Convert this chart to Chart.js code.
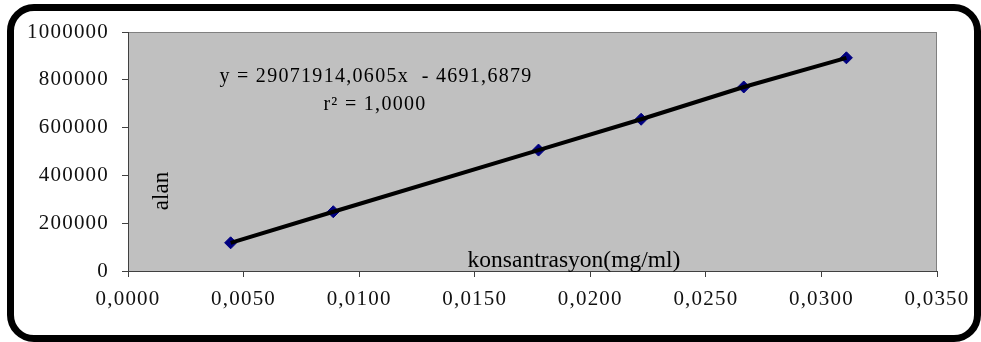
<!DOCTYPE html>
<html>
<head>
<meta charset="utf-8">
<script src="https://cdn.jsdelivr.net/npm/chart.js@4/dist/chart.umd.min.js"></script>
<style>
  html, body { margin: 0; padding: 0; background: #fff; }
  #wrap { position: relative; width: 981px; height: 342px; overflow: hidden; }
  #grafik { position: absolute; left: 0; top: 0; }
  #cerceve {
    position: absolute; left: 7px; top: 4px; width: 974px; height: 338px;
    box-sizing: border-box; border: 7px solid #000; border-radius: 27px;
    pointer-events: none;
  }
</style>
</head>
<body>
<div id="wrap">
  <canvas id="grafik" width="981" height="342"></canvas>
  <div id="cerceve"></div>
</div>
<script>
// konsantrasyon (mg/ml) ve alan degerleri
var konsantrasyon = [0.00444, 0.00888, 0.01776, 0.02220, 0.02664, 0.03108];
var alan = [118000, 248000, 506000, 635000, 770000, 892000];

var xTicks = [0, 0.005, 0.010, 0.015, 0.020, 0.025, 0.030, 0.035];
var yTicks = [0, 200000, 400000, 600000, 800000, 1000000];

var denklem = 'y = 29071914,0605x  - 4691,6879';
var rKare = 'r\u00B2 = 1,0000';
var xBaslik = 'konsantrasyon(mg/ml)';
var yBaslik = 'alan';

var noktalar = konsantrasyon.map(function(k, i) {
  return { x: k, y: alan[i] };
});

var yazi = '"Liberation Serif", "Times New Roman", serif';

var arkaPlan = {
  id: 'arkaPlan',
  beforeDraw: function(chart) {
    var ctx = chart.ctx;
    var a = chart.chartArea;
    ctx.save();
    ctx.fillStyle = '#c0c0c0';
    ctx.fillRect(a.left, a.top, a.right - a.left, a.bottom - a.top);
    ctx.strokeStyle = '#808080';
    ctx.lineWidth = 1;
    ctx.strokeRect(a.left + 0.5, a.top + 0.5, a.right - a.left - 1, a.bottom - a.top);
    ctx.restore();
    // Excel gibi biraz aralikli rakamlar
    ctx.letterSpacing = '1.2px';
  },
  afterDraw: function(chart) {
    var ctx = chart.ctx;
    ctx.save();
    ctx.fillStyle = '#000';
    ctx.textAlign = 'center';
    ctx.textBaseline = 'alphabetic';
    ctx.letterSpacing = '1.3px';
    ctx.font = '20px ' + yazi;
    ctx.fillText(denklem, 376, 82);
    ctx.fillText(rKare, 375, 110);

    ctx.letterSpacing = '0px';
    ctx.font = '23.5px ' + yazi;
    ctx.fillText(xBaslik, 574, 267);

    ctx.translate(168, 191);
    ctx.rotate(-Math.PI / 2);
    ctx.font = '23px ' + yazi;
    ctx.fillText(yBaslik, 0, 0);
    ctx.restore();
  }
};

new Chart(document.getElementById('grafik'), {
  type: 'scatter',
  data: {
    datasets: [{
      label: 'alan',
      data: noktalar,
      showLine: true,
      borderColor: '#000',
      borderWidth: 4,
      pointRadius: 0,
      order: 1
    }, {
      label: 'noktalar',
      data: noktalar,
      showLine: false,
      pointStyle: 'rectRot',
      pointRadius: 6,
      backgroundColor: '#000080',
      borderColor: '#000080',
      borderWidth: 1,
      order: 2
    }]
  },
  options: {
    responsive: false,
    animation: false,
    devicePixelRatio: 1,
    layout: { padding: { left: 0, top: 32, right: 44, bottom: 0 } },
    plugins: {
      legend: { display: false },
      tooltip: { enabled: false }
    },
    scales: {
      x: {
        type: 'linear',
        min: 0,
        max: 0.035,
        afterBuildTicks: function(s) {
          s.ticks = xTicks.map(function(v) { return { value: v }; });
        },
        afterFit: function(s) { s.height = 71; },
        grid: { drawOnChartArea: false, tickLength: 6, color: '#404040' },
        border: { color: '#404040', width: 1 },
        ticks: {
          color: '#111',
          padding: 10,
          maxRotation: 0,
          font: { family: yazi, size: 21 },
          callback: function(v) { return v.toFixed(4).replace('.', ','); }
        }
      },
      y: {
        type: 'linear',
        min: 0,
        max: 1000000,
        afterBuildTicks: function(s) {
          s.ticks = yTicks.map(function(v) { return { value: v }; });
        },
        afterFit: function(s) { s.width = 128; },
        grid: { drawOnChartArea: false, tickLength: 6, color: '#404040' },
        border: { color: '#404040', width: 1 },
        ticks: {
          color: '#111',
          padding: 13,
          font: { family: yazi, size: 21 },
          callback: function(v) { return String(v); }
        }
      }
    }
  },
  plugins: [arkaPlan]
});
</script>
</body>
</html>
